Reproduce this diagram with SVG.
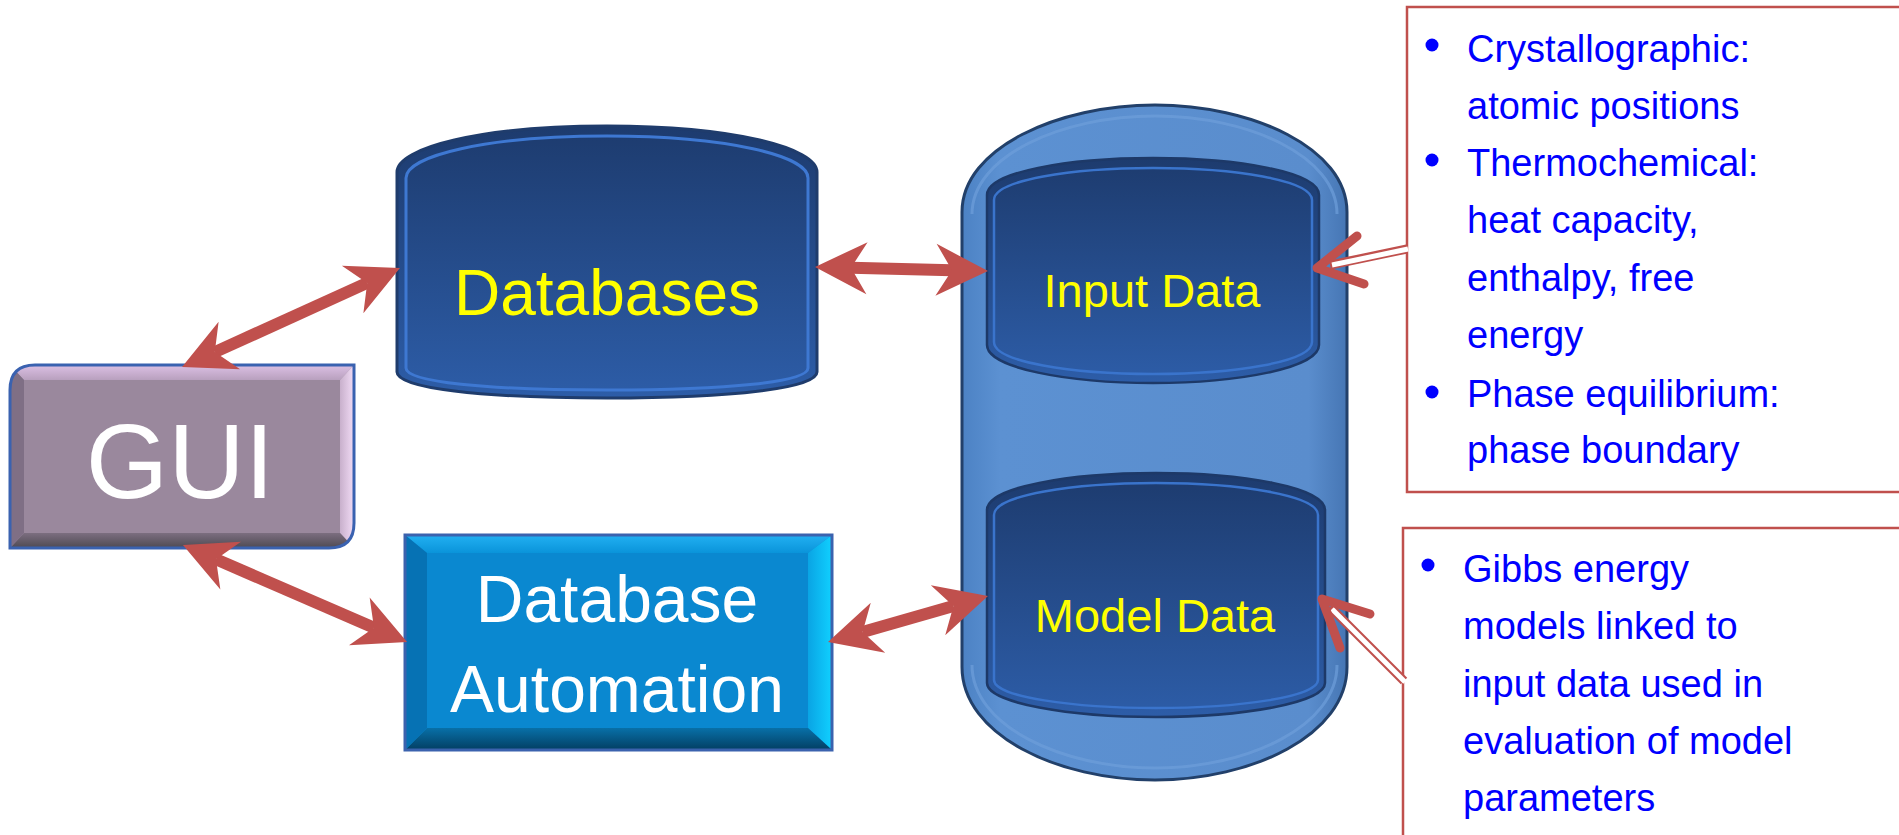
<svg xmlns="http://www.w3.org/2000/svg" width="1899" height="835" viewBox="0 0 1899 835">
<style>
.lbl{font-family:"Liberation Sans",Arial,sans-serif;text-anchor:middle}
.note{font-family:"Liberation Sans",Arial,sans-serif;font-size:38px;fill:#0000FF}
.arrow{stroke:#C0504D;stroke-width:12;fill:none;marker-start:url(#head);marker-end:url(#head)}
.callout-outer{stroke:#C0504D;stroke-width:9;fill:none}
.callout-inner{stroke:#FFFFFF;stroke-width:5;fill:none}
.vhead{stroke:#C0504D;stroke-width:9;fill:none;stroke-linecap:round;stroke-linejoin:round}
.box{fill:#FFFFFF;stroke:#C0504D;stroke-width:2.5}
.bullet{fill:#0000FF}
</style>
<defs>
<marker id="head" viewBox="-20 -30 60 60" markerWidth="60" markerHeight="60" refX="0" refY="0" orient="auto-start-reverse" markerUnits="userSpaceOnUse" overflow="visible">
<path d="M36,0 L-16,-26 L0,0 L-16,26 Z" fill="#C0504D"/>
</marker>
<linearGradient id="canFill" x1="0" y1="0" x2="0" y2="1">
<stop offset="0" stop-color="#1D3B6E"/>
<stop offset="1" stop-color="#2D5DA8"/>
</linearGradient>
<linearGradient id="cylFill" x1="0" y1="0" x2="1" y2="0">
<stop offset="0" stop-color="#4C82C4"/>
<stop offset="0.1" stop-color="#5C91D2"/>
<stop offset="0.9" stop-color="#5A8DCD"/>
<stop offset="1" stop-color="#4676B4"/>
</linearGradient>
<linearGradient id="guiTop" x1="0" y1="0" x2="0" y2="1">
<stop offset="0" stop-color="#DCC0E4"/><stop offset="1" stop-color="#B8A0BE"/>
</linearGradient>
<linearGradient id="guiBot" x1="0" y1="0" x2="0" y2="1">
<stop offset="0" stop-color="#7C6E80"/><stop offset="1" stop-color="#4E4A52"/>
</linearGradient>
<linearGradient id="guiRight" x1="0" y1="0" x2="1" y2="0">
<stop offset="0" stop-color="#C8B0CC"/><stop offset="1" stop-color="#F2DCF6"/>
</linearGradient>
<linearGradient id="daTop" x1="0" y1="0" x2="0" y2="1">
<stop offset="0" stop-color="#22B0F2"/><stop offset="1" stop-color="#0A94DA"/>
</linearGradient>
<linearGradient id="daBot" x1="0" y1="0" x2="0" y2="1">
<stop offset="0" stop-color="#0870A8"/><stop offset="1" stop-color="#033E62"/>
</linearGradient>
<linearGradient id="daRight" x1="0" y1="0" x2="1" y2="0">
<stop offset="0" stop-color="#0AA4E4"/><stop offset="1" stop-color="#10D0FF"/>
</linearGradient>
<clipPath id="guiClip"><path d="M10,390 Q10,365 35,365 H354 V523 Q354,548 329,548 H10 Z"/></clipPath>
</defs>

<rect width="1899" height="835" fill="#FFFFFF"/>

<g id="gui">
<g clip-path="url(#guiClip)">
<rect x="10" y="365" width="344" height="183" fill="#9A889D"/>
<polygon points="10,365 354,365 340,380 24,380" fill="url(#guiTop)"/>
<polygon points="354,365 354,548 340,533 340,380" fill="url(#guiRight)"/>
<polygon points="10,548 354,548 340,533 24,533" fill="url(#guiBot)"/>
<polygon points="10,365 24,380 24,533 10,548" fill="#7F6F85"/>
</g>
<path d="M10,390 Q10,365 35,365 H354 V523 Q354,548 329,548 H10 Z" fill="none" stroke="#3A62B0" stroke-width="3"/>
<text class="lbl" x="180" y="498" font-size="106" fill="#FFFFFF">GUI</text>
</g>

<g id="databases">
<path d="M397,172 C397,148 480,126 607,126 C734,126 817,148 817,172 L817,372 C817,388 734,398 607,398 C480,398 397,388 397,372 Z" fill="url(#canFill)" stroke="#1F3C6C" stroke-width="3"/>
<path d="M406,178 C406,156 486,136 607,136 C728,136 808,156 808,178 L808,368 C808,382 728,390 607,390 C486,390 406,382 406,368 Z" fill="none" stroke="#3E78D2" stroke-width="3"/>
<text class="lbl" x="607" y="315" font-size="64" fill="#FFFF00">Databases</text>
</g>

<g id="database-automation">
<rect x="405" y="535" width="427" height="215" fill="#0A88D0"/>
<polygon points="405,535 832,535 808,553 427,553" fill="url(#daTop)"/>
<polygon points="832,535 832,750 808,728 808,553" fill="url(#daRight)"/>
<polygon points="405,750 832,750 808,728 427,728" fill="url(#daBot)"/>
<polygon points="405,535 427,553 427,728 405,750" fill="#0672B4"/>
<rect x="405" y="535" width="427" height="215" fill="none" stroke="#3B62AE" stroke-width="3"/>
<text class="lbl" x="617" y="622" font-size="66" fill="#FFFFFF">Database</text>
<text class="lbl" x="617" y="712" font-size="66" fill="#FFFFFF">Automation</text>
</g>

<g id="data-store">
<path d="M962,212 C962,148 1058,105 1155,105 C1252,105 1347,148 1347,212 L1347,667 C1347,735 1252,780 1155,780 C1058,780 962,735 962,667 Z" fill="url(#cylFill)" stroke="#22406A" stroke-width="3"/>
<path d="M972,214 C972,156 1062,116 1155,116 C1248,116 1337,156 1337,214" fill="none" stroke="#6E9EDA" stroke-width="3" opacity="0.7"/>
<path d="M972,665 C972,726 1062,768 1155,768 C1248,768 1337,726 1337,665" fill="none" stroke="#6E9EDA" stroke-width="3" opacity="0.7"/>
</g>

<g id="input-data">
<path d="M987,195 C987,172 1068,158 1153,158 C1238,158 1319,172 1319,195 L1319,345 C1319,368 1238,383 1153,383 C1068,383 987,368 987,345 Z" fill="url(#canFill)" stroke="#1D3968" stroke-width="2.5"/>
<path d="M994,200 C994,180 1072,168 1153,168 C1234,168 1312,180 1312,200 L1312,342 C1312,362 1234,374 1153,374 C1072,374 994,362 994,342 Z" fill="none" stroke="#3A74CC" stroke-width="2.5"/>
<text class="lbl" x="1152" y="307" font-size="47" fill="#FFFF00">Input Data</text>
</g>

<g id="model-data">
<path d="M987,510 C987,487 1070,473 1156,473 C1242,473 1325,487 1325,510 L1325,683 C1325,703 1242,717 1156,717 C1070,717 987,703 987,683 Z" fill="url(#canFill)" stroke="#1D3968" stroke-width="2.5"/>
<path d="M994,515 C994,495 1074,483 1156,483 C1238,483 1318,495 1318,515 L1318,680 C1318,697 1238,708 1156,708 C1074,708 994,697 994,680 Z" fill="none" stroke="#3A74CC" stroke-width="2.5"/>
<text class="lbl" x="1155" y="632" font-size="47" fill="#FFFF00">Model Data</text>
</g>

<g id="note-input">
<rect class="box" x="1407" y="7" width="600" height="485"/>
<circle class="bullet" cx="1432" cy="45" r="6.5"/>
<circle class="bullet" cx="1432" cy="160" r="6.5"/>
<circle class="bullet" cx="1432" cy="392" r="6.5"/>
<text class="note" x="1467" y="62">Crystallographic:</text>
<text class="note" x="1467" y="119">atomic positions</text>
<text class="note" x="1467" y="176">Thermochemical:</text>
<text class="note" x="1467" y="233">heat capacity,</text>
<text class="note" x="1467" y="291">enthalpy, free</text>
<text class="note" x="1467" y="348">energy</text>
<text class="note" x="1467" y="407">Phase equilibrium:</text>
<text class="note" x="1467" y="463">phase boundary</text>
</g>

<g id="note-model">
<rect class="box" x="1403" y="528" width="600" height="400"/>
<circle class="bullet" cx="1428" cy="565" r="6.5"/>
<text class="note" x="1463" y="582">Gibbs energy</text>
<text class="note" x="1463" y="639">models linked to</text>
<text class="note" x="1463" y="697">input data used in</text>
<text class="note" x="1463" y="754">evaluation of model</text>
<text class="note" x="1463" y="811">parameters</text>
</g>

<g id="connectors">
<line class="arrow" x1="214.8" y1="352.1" x2="367.2" y2="282.9"/>
<line class="arrow" x1="216" y1="559.3" x2="374" y2="627.7"/>
<line class="arrow" x1="851" y1="267.8" x2="952" y2="270.2"/>
<line class="arrow" x1="862.6" y1="632.1" x2="953.4" y2="605.9"/>
<line class="callout-outer" x1="1407" y1="249" x2="1330" y2="265"/>
<line class="callout-inner" x1="1408" y1="249" x2="1332" y2="265"/>
<polyline class="vhead" points="1357,236 1317,268 1364,284"/>
<line class="callout-outer" x1="1404" y1="681" x2="1330" y2="607"/>
<line class="callout-inner" x1="1405" y1="682" x2="1332" y2="609"/>
<polyline class="vhead" points="1370,614 1322,599 1340,648"/>
</g>
</svg>
